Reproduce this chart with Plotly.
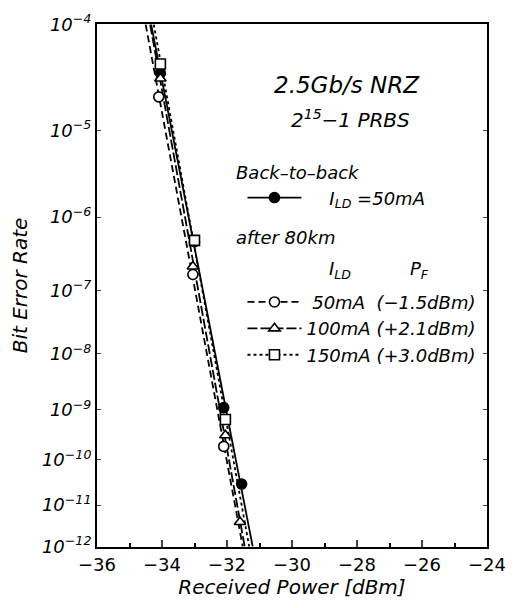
import numpy as np
import plotly.graph_objects as go

# ---- data (received power in dBm, bit error rate) ----
b2b_x = [-34.05, -33.0, -32.1, -31.55]
b2b_ber = [3.7e-5, 4.8e-7, 1.1e-9, 3.0e-11]
c50_x = [-34.1, -33.05, -32.1]
c50_ber = [2.2e-5, 1.7e-7, 1.9e-10]
c100_x = [-34.05, -33.05, -32.05, -31.6]
c100_ber = [3.3e-5, 2.2e-7, 3.2e-10, 4.0e-12]
c150_x = [-34.05, -33.0, -32.05]
c150_ber = [4.5e-5, 5.0e-7, 6.5e-10]

ber_decades = [4, 5, 6, 7, 8, 9, 10, 11, 12]
x_ticks = [-36, -34, -32, -30, -28, -26, -24]

FONT = "DejaVu Sans, sans-serif"
NB = "\u00a0"


def q(ber):
    # the BER axis is a log(-log(BER)) scale: plot -log10(BER) on a log axis
    return -np.log10(np.asarray(ber, dtype=float))


def fit_line(xs, bers):
    u = np.log10(q(bers))
    b, a = np.polyfit(u, np.asarray(xs, dtype=float), 1)
    qe = np.array([ber_decades[0], ber_decades[-1]], dtype=float)
    return a + b * np.log10(qe), qe


series = [
    dict(x=b2b_x, ber=b2b_ber, sym="circle", fill="black", dash="solid",
         name="<i>" + NB * 4 + "I<sub>LD</sub> =50mA</i>"),
    dict(x=c50_x, ber=c50_ber, sym="circle", fill="white", dash="7px,4px",
         name="<i>" + NB + "50mA" + NB * 2 + "(\u22121.5dBm)</i>"),
    dict(x=c100_x, ber=c100_ber, sym="triangle-up", fill="white", dash="10px,3px",
         name="<i>100mA (+2.1dBm)</i>"),
    dict(x=c150_x, ber=c150_ber, sym="square", fill="white", dash="3px,3px",
         name="<i>150mA (+3.0dBm)</i>"),
]

fig = go.Figure()

for s in series:
    lx, ly = fit_line(s["x"], s["ber"])
    fig.add_trace(go.Scatter(x=lx, y=ly, mode="lines", showlegend=False,
                             line=dict(color="black", width=1.8, dash=s["dash"]),
                             hoverinfo="skip"))
for s in series:
    fig.add_trace(go.Scatter(
        x=s["x"], y=q(s["ber"]), mode="markers", showlegend=False,
        marker=dict(symbol=s["sym"], size=10, color=s["fill"],
                    line=dict(color="black", width=1.6))))
for i, s in enumerate(series):
    fig.add_trace(go.Scatter(
        x=[None], y=[None], mode="lines+markers", name=s["name"],
        legendgroup="g1" if i == 0 else "g2",
        line=dict(color="black", width=1.8, dash=s["dash"]),
        marker=dict(symbol=s["sym"], size=10, color=s["fill"],
                    line=dict(color="black", width=1.6))))

tick_text = ["<i>10<sup>\u2212%d</sup></i>" % d for d in ber_decades]

fig.update_layout(
    width=517, height=608,
    margin=dict(l=97, r=21, t=11, b=61),
    paper_bgcolor="white", plot_bgcolor="white",
    font=dict(family=FONT, color="black", size=18),
    showlegend=True,
    legend=dict(x=0.373, y=0.703, xanchor="left", yanchor="top",
                bgcolor="rgba(0,0,0,0)", itemwidth=54, tracegroupgap=78,
                traceorder="grouped", font=dict(size=18, family=FONT)),
    xaxis=dict(range=[-36, -24], tickvals=x_ticks, ticks="inside", ticklen=7,
               tickwidth=1.5, showline=True, linewidth=2, linecolor="black",
               mirror=True, showgrid=False, zeroline=False,
               minor=dict(dtick=1, ticks="inside", ticklen=4, tickcolor="black"),
               tickfont=dict(size=18),
               title=dict(text="<i>Received Power [dBm]</i>", font=dict(size=20), standoff=4)),
    yaxis=dict(type="log", range=[np.log10(12) + 0.0005, np.log10(4) - 0.0005],
               tickmode="array",
               tickvals=ber_decades, ticktext=tick_text, ticks="inside", ticklen=4,
               showline=True, linewidth=2, linecolor="black", mirror="ticks",
               showgrid=False, zeroline=False, tickfont=dict(size=18),
               title=dict(text="<i>Bit Error Rate</i>", font=dict(size=20), standoff=9)),
)


def note(px, py, text, size, anchor="left"):
    fig.add_annotation(x=px, y=py, xref="paper", yref="paper", showarrow=False,
                       xanchor=anchor, yanchor="middle", text=text,
                       font=dict(size=size, family=FONT))


note(0.64, 0.884, "<i>2.5Gb/s NRZ</i>", 23, "center")
note(0.65, 0.819, "<i>2<sup>15</sup>\u22121 PRBS</i>", 20, "center")
note(0.351, 0.716, "<i>Back\u2013to\u2013back</i>", 18)
note(0.351, 0.591, "<i>after 80km</i>", 18)
note(0.589, 0.53, "<i>I<sub>LD</sub></i>", 18)
note(0.797, 0.53, "<i>P<sub>F</sub></i>", 18)

fig.write_html("out.html")
